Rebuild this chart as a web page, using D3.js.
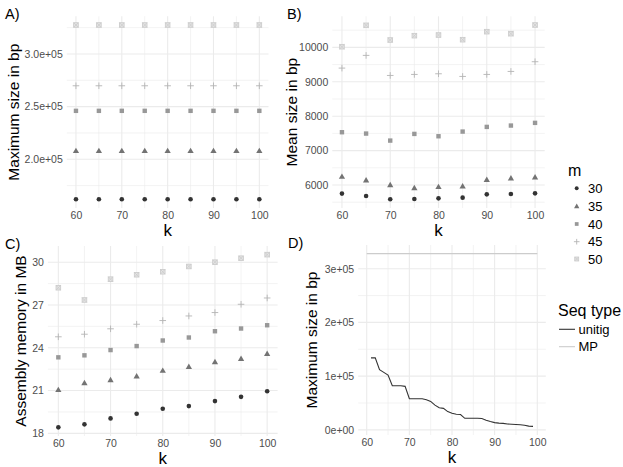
<!DOCTYPE html>
<html><head><meta charset="utf-8">
<script src="https://cdn.jsdelivr.net/npm/d3@7"></script>
<style>
body{margin:0;background:#fff}
svg{display:block}
text{font-family:"Liberation Sans",Arial,Helvetica,sans-serif}
</style>
</head><body>
<svg id="chart" width="623" height="467"></svg>
<script>
// ---------- data ----------
const kValues = [60,65,70,75,80,85,90,95,100];
const mLevels = ["30","35","40","45","50"];
const mColors = ["#333333","#737373","#989898","#b4b4b4","#cccccc"];

// A) Maximum size in bp
const maxSizeM30 = [162000,162000,162000,162000,162000,162000,162000,162000,162000];
const maxSizeM35 = [208000,208000,208000,208000,208000,208000,208000,208000,208000];
const maxSizeM40 = [246000,246000,246000,246000,246000,246000,246000,246000,246000];
const maxSizeM45 = [269800,269800,269800,269800,269800,269800,269800,269800,269800];
const maxSizeM50 = [327500,327500,327500,327500,327500,327500,327500,327500,327500];

// B) Mean size in bp
const meanSizeM30 = [5750,5680,5585,5592,5612,5632,5728,5738,5757];
const meanSizeM35 = [6243,6136,6000,5915,5945,5962,6155,6194,6223];
const meanSizeM40 = [7534,7495,7291,7485,7417,7553,7689,7728,7806];
const meanSizeM45 = [9398,9767,9184,9214,9233,9155,9214,9301,9583];
const meanSizeM50 = [10019,10641,10214,10340,10359,10223,10456,10398,10650];

// C) Assembly memory in MB
const memoryM30 = [18.42,18.63,19.05,19.37,19.72,19.91,20.26,20.56,20.95];
const memoryM35 = [21.05,21.53,21.74,22.00,22.40,22.67,23.00,23.23,23.58];
const memoryM40 = [23.33,23.47,23.84,24.12,24.51,24.72,25.16,25.35,25.58];
const memoryM45 = [24.77,24.95,25.33,25.65,25.91,26.23,26.47,27.05,27.49];
const memoryM50 = [28.21,27.35,28.81,29.12,29.33,29.70,30.00,30.28,30.53];

// D) Maximum size in bp per k
const unitigK = [61,62,63,64,65,66,67,68,69,70,71,72,73,74,75,76,77,78,79,80,81,82,83,84,85,86,87,88,89,90,91,92,93,94,95,96,97,98,99];
const unitigMax = [134000,134000,112000,107000,102000,82000,82000,82000,81000,58000,58000,58000,58000,56000,53000,46000,41000,40000,34000,31000,29000,28500,21500,21500,21500,21500,21000,18000,15500,13500,12500,12000,11000,10500,10000,9500,8500,7000,6500];
const mpK = [60,100];
const mpMax = [328000,328000];
const seqTypes = ["unitig","MP"];
const seqColors = ["#333333","#cccccc"];

// tick labels
const xTickValues = [60,70,80,90,100];
const xTickLabels = ["60","70","80","90","100"];
const xMinor = [65,75,85,95];
const yTicksA = [200000,250000,300000];
const yLabelsA = ["2.0e+05","2.5e+05","3.0e+05"];
const yMinorA = [175000,225000,275000,325000];
const yTicksB = [6000,7000,8000,9000,10000];
const yLabelsB = ["6000","7000","8000","9000","10000"];
const yMinorB = [5500,6500,7500,8500,9500,10500];
const yTicksC = [18,21,24,27,30];
const yLabelsC = ["18","21","24","27","30"];
const yMinorC = [19.5,22.5,25.5,28.5];
const yTicksD = [0,100000,200000,300000];
const yLabelsD = ["0e+00","1e+05","2e+05","3e+05"];
const yMinorD = [50000,150000,250000];

// ---------- drawing ----------
const svg = d3.select("#chart");
const GRID = "#ebebeb";
const TICKCOL = "#4d4d4d";

function expand(ext){ const p=(ext[1]-ext[0])*0.05; return [ext[0]-p, ext[1]+p]; }

function drawMarker(g, idx, cx, cy, s){
  s = s||1;
  const col = mColors[idx];
  if(idx===0){
    g.append("circle").attr("cx",cx).attr("cy",cy).attr("r",2.3*s).attr("fill",col);
  } else if(idx===1){
    g.append("path").attr("transform",`translate(${cx},${cy+0.4})`)
      .attr("d", d3.symbol(d3.symbolTriangle, 17*s*s)()).attr("fill",col);
  } else if(idx===2){
    const h=2.2*s;
    g.append("rect").attr("x",cx-h).attr("y",cy-h).attr("width",2*h).attr("height",2*h).attr("fill",col);
  } else if(idx===3){
    const h=3.3*s;
    g.append("path").attr("d",`M${cx-h},${cy}H${cx+h}M${cx},${cy-h}V${cy+h}`)
      .attr("stroke",col).attr("stroke-width",0.9).attr("fill","none");
  } else {
    const h=2.3*s;
    g.append("rect").attr("x",cx-h).attr("y",cy-h).attr("width",2*h).attr("height",2*h)
      .attr("fill","#e4e4e4").attr("stroke",col).attr("stroke-width",0.9);
    g.append("path").attr("d",`M${cx-h},${cy-h}L${cx+h},${cy+h}M${cx-h},${cy+h}L${cx+h},${cy-h}`)
      .attr("stroke",col).attr("stroke-width",0.8);
  }
}

function panel(cfg){
  const x = d3.scaleLinear().domain(expand(cfg.xExt)).range([cfg.x0,cfg.x1]);
  const y = d3.scaleLinear().domain(expand(cfg.yExt)).range([cfg.y1,cfg.y0]);
  const g = svg.append("g");
  // minor grid
  g.selectAll(null).data(xMinor).join("line")
    .attr("x1",d=>x(d)).attr("x2",d=>x(d)).attr("y1",cfg.y0).attr("y2",cfg.y1)
    .attr("stroke",GRID).attr("stroke-width",0.6);
  g.selectAll(null).data(cfg.yMinor).join("line")
    .attr("y1",d=>y(d)).attr("y2",d=>y(d)).attr("x1",cfg.x0).attr("x2",cfg.x1)
    .attr("stroke",GRID).attr("stroke-width",0.6);
  // major grid
  g.selectAll(null).data(xTickValues).join("line")
    .attr("x1",d=>x(d)).attr("x2",d=>x(d)).attr("y1",cfg.y0).attr("y2",cfg.y1)
    .attr("stroke",GRID).attr("stroke-width",1.1);
  g.selectAll(null).data(cfg.yTicks).join("line")
    .attr("y1",d=>y(d)).attr("y2",d=>y(d)).attr("x1",cfg.x0).attr("x2",cfg.x1)
    .attr("stroke",GRID).attr("stroke-width",1.1);
  // axes
  const xa = g.append("g").attr("transform",`translate(0,${cfg.y1})`)
    .call(d3.axisBottom(x).tickValues(xTickValues).tickFormat((d,i)=>xTickLabels[i]).tickSize(0).tickPadding(4));
  const ya = g.append("g").attr("transform",`translate(${cfg.x0},0)`)
    .call(d3.axisLeft(y).tickValues(cfg.yTicks).tickFormat((d,i)=>cfg.yLabels[i]).tickSize(0).tickPadding(4));
  [xa,ya].forEach(a=>{
    a.select(".domain").remove();
    a.selectAll("text").attr("fill",TICKCOL).style("font-size","10.5px")
      .style("font-family",'"Liberation Sans",Arial,sans-serif');
  });
  // titles
  g.append("text").attr("x",(cfg.x0+cfg.x1)/2).attr("y",cfg.y1+27.5)
    .attr("text-anchor","middle").style("font-size","17px").text("k");
  g.append("text").attr("transform",`translate(${cfg.ytx},${(cfg.y0+cfg.y1)/2}) rotate(-90)`)
    .attr("text-anchor","middle").style("font-size","15.5px").text(cfg.ytitle);
  g.append("text").attr("x",cfg.tagx).attr("y",cfg.y0+2.5).style("font-size","14.5px").text(cfg.tag);
  return {g,x,y};
}

function pointPanel(cfg, series){
  const p = panel(cfg);
  series.forEach((vals,i)=>{
    vals.forEach((v,j)=> drawMarker(p.g, i, p.x(kValues[j]), p.y(v)));
  });
}

const allExt = arrs => d3.extent(arrs.flat());

pointPanel({x0:66.8,x1:268.5,y0:16.3,y1:208,xExt:d3.extent(kValues),
  yExt:allExt([maxSizeM30,maxSizeM35,maxSizeM40,maxSizeM45,maxSizeM50]),
  yTicks:yTicksA,yLabels:yLabelsA,yMinor:yMinorA,ytx:19,ytitle:"Maximum size in bp",tag:"A)",tagx:5},
  [maxSizeM30,maxSizeM35,maxSizeM40,maxSizeM45,maxSizeM50]);

pointPanel({x0:332.3,x1:544.7,y0:16.3,y1:208,xExt:d3.extent(kValues),
  yExt:allExt([meanSizeM30,meanSizeM35,meanSizeM40,meanSizeM45,meanSizeM50]),
  yTicks:yTicksB,yLabels:yLabelsB,yMinor:yMinorB,ytx:297,ytitle:"Mean size in bp",tag:"B)",tagx:287},
  [meanSizeM30,meanSizeM35,meanSizeM40,meanSizeM45,meanSizeM50]);

pointPanel({x0:47.9,x1:277.6,y0:246,y1:436,xExt:d3.extent(kValues),
  yExt:allExt([memoryM30,memoryM35,memoryM40,memoryM45,memoryM50]),
  yTicks:yTicksC,yLabels:yLabelsC,yMinor:yMinorC,ytx:26,ytitle:"Assembly memory in MB",tag:"C)",tagx:5},
  [memoryM30,memoryM35,memoryM40,memoryM45,memoryM50]);

// D
const pD = panel({x0:358.2,x1:545.8,y0:245,y1:435,xExt:d3.extent(mpK.concat(unitigK)),
  yExt:d3.extent(unitigMax.concat(mpMax)),
  yTicks:yTicksD,yLabels:yLabelsD,yMinor:yMinorD,ytx:317,ytitle:"Maximum size in bp",tag:"D)",tagx:288});
const lineD = d3.line().x(d=>pD.x(d[0])).y(d=>pD.y(d[1]));
pD.g.append("path").attr("d",lineD(mpK.map((k,i)=>[k,mpMax[i]])))
  .attr("fill","none").attr("stroke",seqColors[1]).attr("stroke-width",1.1);
pD.g.append("path").attr("d",lineD(unitigK.map((k,i)=>[k,unitigMax[i]])))
  .attr("fill","none").attr("stroke",seqColors[0]).attr("stroke-width",1.1);

// legends
const lg = svg.append("g");
lg.append("text").attr("x",568).attr("y",175.5).style("font-size","16px").text("m");
const legY = [188.3,206.2,224,241.7,259];
mLevels.forEach((m,i)=>{
  drawMarker(lg, i, 576.7, legY[i], 0.85);
  lg.append("text").attr("x",588).attr("y",legY[i]+4.6).style("font-size","13px").text(m);
});
lg.append("text").attr("x",558).attr("y",315.5).style("font-size","16px").text("Seq type");
const seqY = [329.3,346.7];
seqTypes.forEach((s,i)=>{
  lg.append("line").attr("x1",559).attr("x2",575).attr("y1",seqY[i]).attr("y2",seqY[i])
    .attr("stroke",seqColors[i]).attr("stroke-width",1.1);
  lg.append("text").attr("x",578.5).attr("y",seqY[i]+4.6).style("font-size","13px").text(s);
});
</script>
</body></html>
